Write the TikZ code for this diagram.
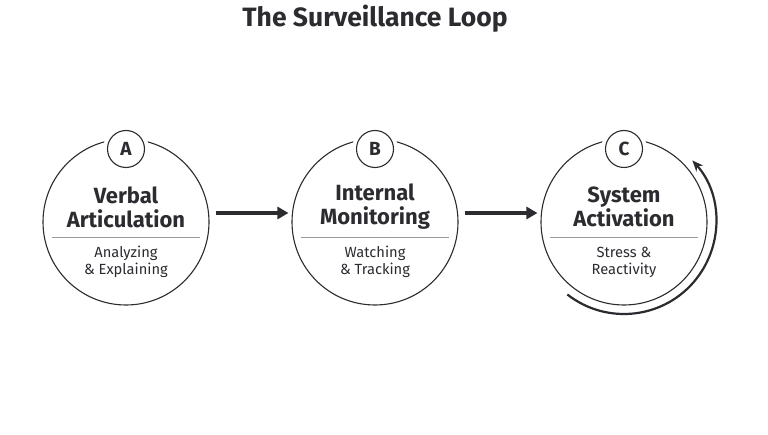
\documentclass[tikz,border=0pt]{standalone}
\usepackage{fontspec}
\setmainfont{Fira Sans}
\usetikzlibrary{arrows.meta}

\definecolor{ink}{HTML}{2B2B30}
\definecolor{rule}{HTML}{9A9A9A}

\tikzset{
  stage/.style={draw=ink, line width=1.1pt, circle, minimum size=166pt, inner sep=0pt},
  badge/.style={draw=ink, line width=1.1pt, circle, fill=white, minimum size=37pt, inner sep=0pt,
    font=\fontsize{19}{22}\selectfont\bfseries, text=ink},
  gap/.style={circle, fill=white, minimum size=46pt, inner sep=0pt},
  heading/.style={align=center, text=ink, font=\fontsize{22}{24}\selectfont\bfseries},
  detail/.style={align=center, text=ink, font=\fontsize{14.7}{17}\selectfont},
  flow/.style={-{Triangle[length=11pt,width=12pt]}, line width=3.6pt, draw=ink},
  loop/.style={-{Stealth[length=11pt,width=9pt]}, line width=2.2pt, draw=ink},
}

\begin{document}
\begin{tikzpicture}[x=1pt,y=1pt]
  \useasboundingbox (0,0) rectangle (768,434);

  \node [text=ink, font=\fontsize{26.5}{30}\selectfont\bfseries] (title) at (375,415) {The Surveillance Loop};

  % stages
  \node [stage] (A) at (126,212) {};
  \node [stage] (B) at (375,212) {};
  \node [stage] (C) at (624,212) {};

  \node [gap] at (126,285) {};
  \node [gap] at (375,285) {};
  \node [gap] at (624,285) {};
  \node [badge] (bA) at (126,285) {A};
  \node [badge] (bB) at (375,285) {B};
  \node [badge] (bC) at (624,285) {C};

  \node [heading] (hA) at ([yshift=15pt]A.center) {Verbal\\Articulation};
  \node [heading] (hB) at ([yshift=15pt]B.center) {Internal\\Monitoring};
  \node [heading] (hC) at ([yshift=15pt]C.center) {System\\Activation};

  \draw [rule, line width=0.6pt] ([shift={(-74pt,-15pt)}]A.center) -- ([shift={(74pt,-15pt)}]A.center);
  \draw [rule, line width=0.6pt] ([shift={(-74pt,-15pt)}]B.center) -- ([shift={(74pt,-15pt)}]B.center);
  \draw [rule, line width=0.6pt] ([shift={(-74pt,-15pt)}]C.center) -- ([shift={(74pt,-15pt)}]C.center);

  \node [detail] (dA) at ([yshift=-40pt]A.center) {Analyzing\\\& Explaining};
  \node [detail] (dB) at ([yshift=-40pt]B.center) {Watching\\\& Tracking};
  \node [detail] (dC) at ([yshift=-40pt]C.center) {Stress \&\\Reactivity};

  % connectors
  \draw [flow, shorten <=6pt, shorten >=3pt] ([yshift=9pt]A.east) -- ([yshift=9pt]B.west);
  \draw [flow, shorten <=6pt, shorten >=3pt] ([yshift=9pt]B.east) -- ([yshift=9pt]C.west);

  \draw [loop] ([shift={(-128:92pt)}]C.center) arc [start angle=-128, end angle=42, radius=92pt];
\end{tikzpicture}
\end{document}
